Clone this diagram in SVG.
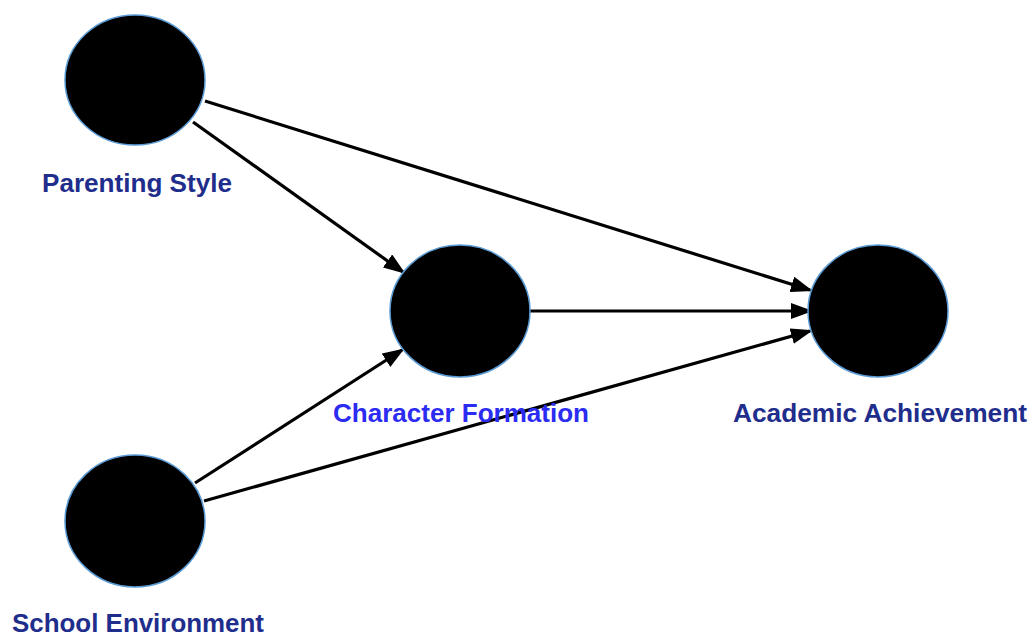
<svg xmlns="http://www.w3.org/2000/svg" width="1030" height="635" viewBox="0 0 1030 635">
<style>
.node ellipse{fill:#000;stroke:#5b9bd5;stroke-width:1.5}
.lbl{font-family:"Liberation Sans",Arial,sans-serif;font-weight:bold;font-size:25.5px;fill:#1f2d8c}
.lbl2{fill:#2b2bf2}
.edge{stroke:#000;stroke-width:3.2;fill:none;marker-end:url(#ah)}
</style>
<defs>
<marker id="ah" markerUnits="userSpaceOnUse" markerWidth="22" markerHeight="16" viewBox="0 0 22 16" refX="19" refY="8" orient="auto">
<path d="M0,0 L22,8 L0,16 z" fill="#000"/>
</marker>
</defs>
<rect width="1030" height="635" fill="#fff"/>
<g id="connectors">
<line class="edge" x1="193" y1="122" x2="403" y2="272"/>
<line class="edge" x1="205" y1="101" x2="810" y2="290"/>
<line class="edge" x1="530" y1="311" x2="810" y2="311"/>
<line class="edge" x1="195" y1="483" x2="402" y2="350"/>
<line class="edge" x1="204" y1="501" x2="810" y2="331"/>
</g>
<g id="parenting-style" class="node">
<ellipse cx="135" cy="80" rx="70" ry="65"/>
<text class="lbl" x="137" y="192" text-anchor="middle" textLength="190" lengthAdjust="spacingAndGlyphs">Parenting Style</text>
</g>
<g id="character-formation" class="node">
<ellipse cx="460" cy="311" rx="70" ry="66"/>
<text class="lbl lbl2" x="461" y="422" text-anchor="middle" textLength="256" lengthAdjust="spacingAndGlyphs">Character Formation</text>
</g>
<g id="academic-achievement" class="node">
<ellipse cx="878" cy="311" rx="70" ry="66"/>
<text class="lbl" x="880" y="422" text-anchor="middle" textLength="294" lengthAdjust="spacingAndGlyphs">Academic Achievement</text>
</g>
<g id="school-environment" class="node">
<ellipse cx="135" cy="521" rx="70" ry="66"/>
<text class="lbl" x="138" y="632" text-anchor="middle" textLength="252" lengthAdjust="spacingAndGlyphs">School Environment</text>
</g>
</svg>
